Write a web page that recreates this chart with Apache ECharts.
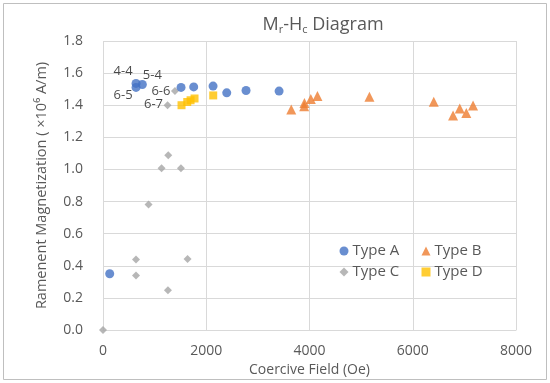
<!DOCTYPE html>
<html><head><meta charset="utf-8">
<script src="https://cdn.jsdelivr.net/npm/echarts@6/dist/echarts.min.js"></script>
<style>html,body{margin:0;padding:0;background:#fff}#c{width:550px;height:383px}</style>
</head><body><div id="c"></div>
<script>
// ---- data ----
const typeA = [[130,0.35],[640,1.536],[762,1.529],[640,1.511],[1512,1.511],[1757,1.514],[2132,1.519],[2397,1.477],[2771,1.492],[3411,1.488]];
const typeALabels = ['', '4-4', '5-4', '6-5', '', '', '', '', '', ''];
const typeB = [[3647,1.373],[3897,1.394],[3902,1.414],[4026,1.439],[4154,1.458],[5161,1.452],[6407,1.421],[6781,1.336],[6911,1.379],[7038,1.352],[7168,1.398]];
const typeC = [[0,0],[1394,1.488],[1250,1.40],[1264,1.088],[1134,1.008],[1510,1.008],[883,0.781],[639,0.439],[1638,0.442],[639,0.339],[1258,0.248]];
const typeCLabels = ['', '6-6', '6-7', '', '', '', '', '', '', '', ''];
const typeD = [[1521,1.40],[1632,1.42],[1696,1.431],[1773,1.442],[2135,1.461]];
const xTicks = [0,2000,4000,6000,8000];
const yTicks = [0,0.2,0.4,0.6,0.8,1.0,1.2,1.4,1.6,1.8];

// label placement (style)
const labelOffsets = {'4-4':[-13,-12],'5-4':[10,-9],'6-5':[-13,8],'6-6':[-14,0],'6-7':[-14,-1]};

const txt = '#595959';
const ff = 'Open Sans, sans-serif';
function withLabels(pts, names){
  return pts.map((p,i)=>{
    const n = names[i];
    if(!n) return {value:p};
    return {value:p, name:n, label:{show:true, position:'inside', offset:labelOffsets[n], formatter:n,
      color:'#1a1a1a', fontSize:13, fontFamily:ff}};
  });
}
function legendRow(top, items){
  return {
    left:334.5, top:top, itemGap:10, itemWidth:9, itemHeight:9, orient:'horizontal',
    textStyle:{color:txt, fontSize:15, lineHeight:11, width:59, fontFamily:ff, padding:[0,0,0,-1]},
    data:items
  };
}

const chart = echarts.init(document.getElementById('c'), null, {renderer:'canvas'});
chart.setOption({
  animation:false,
  backgroundColor:'#fff',
  title:{
    text:'{m|M}{s|r}{m|-H}{s|c}{m| Diagram}',
    left:318, top:9, textAlign:'center',
    textStyle:{fontWeight:'normal', rich:{
      m:{fontSize:18, color:txt, fontFamily:ff, fontWeight:'normal'},
      s:{fontSize:11, color:txt, fontFamily:ff, fontWeight:'normal', padding:[10,0,0,0]}
    }}
  },
  grid:{left:103, right:34, top:41, bottom:53},
  legend:[
    legendRow(238.5, [{name:'Type A',icon:'circle'},{name:'Type B',icon:'triangle'}]),
    legendRow(259.5, [{name:'Type C',icon:'diamond'},{name:'Type D',icon:'rect'}])
  ],
  xAxis:{
    type:'value', min:xTicks[0], max:xTicks[xTicks.length-1], interval:xTicks[1]-xTicks[0],
    name:'Coercive Field (Oe)', nameLocation:'middle', nameGap:33,
    nameTextStyle:{color:txt, fontSize:14, fontFamily:ff},
    axisLine:{show:true, lineStyle:{color:'#D9D9D9'}}, axisTick:{show:false},
    axisLabel:{color:txt, fontSize:14, margin:14, fontFamily:ff, formatter:v=>String(v)},
    splitLine:{show:true, lineStyle:{color:'#D9D9D9'}}
  },
  yAxis:{
    type:'value', min:yTicks[0], max:yTicks[yTicks.length-1], interval:0.2,
    name:'Ramenent Magnetization ( \u00d710\u2076 A/m)', nameLocation:'middle', nameGap:54, nameRotate:90,
    nameTextStyle:{color:txt, fontSize:14.5, fontFamily:ff},
    axisLine:{show:false}, axisTick:{show:false},
    axisLabel:{color:txt, fontSize:14, margin:20, fontFamily:ff, formatter:v=>v.toFixed(1)},
    splitLine:{show:true, lineStyle:{color:'#D9D9D9'}}
  },
  series:[
    {name:'Type A', type:'scatter', symbol:'circle', symbolSize:9, itemStyle:{color:'#4472C4'}, data:withLabels(typeA,typeALabels), z:4},
    {name:'Type B', type:'scatter', symbol:'triangle', symbolSize:10, itemStyle:{color:'#ED7D31'}, data:typeB, z:3},
    {name:'Type C', type:'scatter', symbol:'diamond', symbolSize:8, itemStyle:{color:'#A5A5A5'}, data:withLabels(typeC,typeCLabels), z:2},
    {name:'Type D', type:'scatter', symbol:'rect', symbolSize:8, itemStyle:{color:'#FFC000'}, data:typeD, z:3}
  ],
  graphic:[{type:'rect', shape:{x:3.5,y:3.5,width:543,height:376}, style:{fill:null, stroke:'#BFBFBF', lineWidth:1}, silent:true, z:-1}]
});
</script></body></html>
